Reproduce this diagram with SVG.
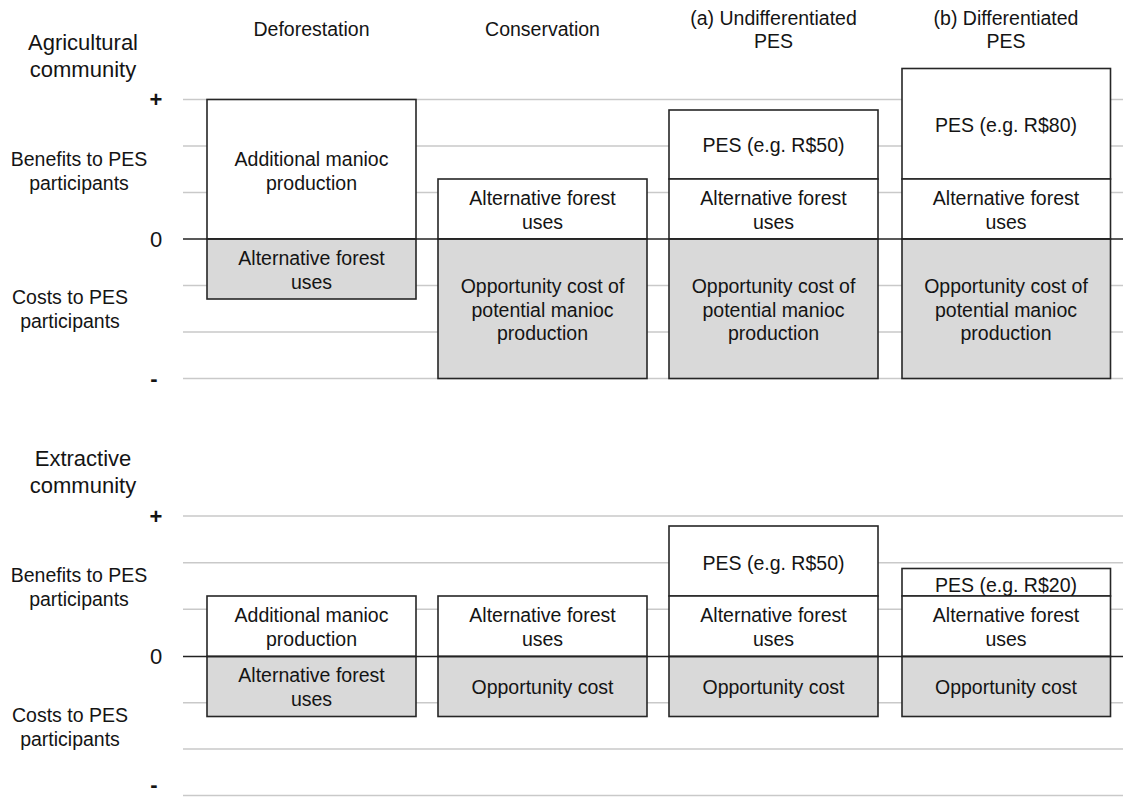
<svg xmlns="http://www.w3.org/2000/svg" width="1123" height="797" viewBox="0 0 1123 797">
<style>
text{font-family:"Liberation Sans",Arial,sans-serif;fill:#141414;text-anchor:middle}
.lbl{font-size:19.5px}
.big{font-size:22px}
.axis{font-size:22px}
.grid{stroke:#c9c9c9;stroke-width:1.6}
.zero{stroke:#222;stroke-width:1.6}
.w{fill:#fff;stroke:#262626;stroke-width:1.6}
.g{fill:#d9d9d9;stroke:#262626;stroke-width:1.6}
</style>
<rect width="1123" height="797" fill="#fff"/>
<g id="grid">
<line class="grid" x1="183" y1="99.5" x2="1123" y2="99.5"/>
<line class="grid" x1="183" y1="146" x2="1123" y2="146"/>
<line class="grid" x1="183" y1="192.5" x2="1123" y2="192.5"/>
<line class="grid" x1="183" y1="285.5" x2="1123" y2="285.5"/>
<line class="grid" x1="183" y1="332" x2="1123" y2="332"/>
<line class="grid" x1="183" y1="378.5" x2="1123" y2="378.5"/>
<line class="grid" x1="183" y1="516" x2="1123" y2="516"/>
<line class="grid" x1="183" y1="562.7" x2="1123" y2="562.7"/>
<line class="grid" x1="183" y1="609.3" x2="1123" y2="609.3"/>
<line class="grid" x1="183" y1="702.7" x2="1123" y2="702.7"/>
<line class="grid" x1="183" y1="749" x2="1123" y2="749"/>
<line class="grid" x1="183" y1="795.5" x2="1123" y2="795.5"/>
</g>
<g id="connectors"></g>
<g id="axis-labels">
<text class="big" x="83" y="50">Agricultural</text>
<text class="big" x="83" y="77">community</text>
<text class="big" x="83" y="466">Extractive</text>
<text class="big" x="83" y="493">community</text>
<text class="lbl" x="79" y="166">Benefits to PES</text>
<text class="lbl" x="79" y="189.5">participants</text>
<text class="lbl" x="70" y="304">Costs to PES</text>
<text class="lbl" x="70" y="327.5">participants</text>
<text class="lbl" x="79" y="582">Benefits to PES</text>
<text class="lbl" x="79" y="605.5">participants</text>
<text class="lbl" x="70" y="722">Costs to PES</text>
<text class="lbl" x="70" y="745.5">participants</text>
<text class="axis" x="156" y="107" font-weight="bold">+</text>
<text class="axis" x="156" y="247">0</text>
<text class="axis" x="154" y="386" font-weight="bold">-</text>
<text class="axis" x="156" y="524" font-weight="bold">+</text>
<text class="axis" x="156" y="664">0</text>
<text class="axis" x="154" y="792" font-weight="bold">-</text>
</g>
<g id="headers">
<text class="lbl" x="311.5" y="36">Deforestation</text>
<text class="lbl" x="542.5" y="36">Conservation</text>
<text class="lbl" x="773.5" y="25">(a) Undifferentiated</text>
<text class="lbl" x="773.5" y="48">PES</text>
<text class="lbl" x="1006" y="25">(b) Differentiated</text>
<text class="lbl" x="1006" y="48">PES</text>
</g>
<g id="agri-deforestation">
<rect class="w" x="207" y="99.5" width="209" height="139.5"/>
<rect class="g" x="207" y="239" width="209" height="60"/>
<text class="lbl" x="311.5" y="166">Additional manioc</text>
<text class="lbl" x="311.5" y="189.5">production</text>
<text class="lbl" x="311.5" y="265">Alternative forest</text>
<text class="lbl" x="311.5" y="288.5">uses</text>
</g>
<g id="agri-conservation">
<rect class="w" x="438" y="179" width="209" height="60"/>
<rect class="g" x="438" y="239" width="209" height="139.5"/>
<text class="lbl" x="542.5" y="205">Alternative forest</text>
<text class="lbl" x="542.5" y="228.5">uses</text>
<text class="lbl" x="542.5" y="293">Opportunity cost of</text>
<text class="lbl" x="542.5" y="316.5">potential manioc</text>
<text class="lbl" x="542.5" y="340">production</text>
</g>
<g id="agri-undifferentiated">
<rect class="w" x="669" y="110" width="209" height="69"/>
<rect class="w" x="669" y="179" width="209" height="60"/>
<rect class="g" x="669" y="239" width="209" height="139.5"/>
<text class="lbl" x="773.5" y="152">PES (e.g. R$50)</text>
<text class="lbl" x="773.5" y="205">Alternative forest</text>
<text class="lbl" x="773.5" y="228.5">uses</text>
<text class="lbl" x="773.5" y="293">Opportunity cost of</text>
<text class="lbl" x="773.5" y="316.5">potential manioc</text>
<text class="lbl" x="773.5" y="340">production</text>
</g>
<g id="agri-differentiated">
<rect class="w" x="902" y="68.5" width="208.5" height="110.5"/>
<rect class="w" x="902" y="179" width="208.5" height="60"/>
<rect class="g" x="902" y="239" width="208.5" height="139.5"/>
<text class="lbl" x="1006" y="132">PES (e.g. R$80)</text>
<text class="lbl" x="1006" y="205">Alternative forest</text>
<text class="lbl" x="1006" y="228.5">uses</text>
<text class="lbl" x="1006" y="293">Opportunity cost of</text>
<text class="lbl" x="1006" y="316.5">potential manioc</text>
<text class="lbl" x="1006" y="340">production</text>
</g>
<g id="extr-deforestation">
<rect class="w" x="207" y="596" width="209" height="60.5"/>
<rect class="g" x="207" y="656.5" width="209" height="60"/>
<text class="lbl" x="311.5" y="622">Additional manioc</text>
<text class="lbl" x="311.5" y="645.5">production</text>
<text class="lbl" x="311.5" y="682">Alternative forest</text>
<text class="lbl" x="311.5" y="705.5">uses</text>
</g>
<g id="extr-conservation">
<rect class="w" x="438" y="596" width="209" height="60.5"/>
<rect class="g" x="438" y="656.5" width="209" height="60"/>
<text class="lbl" x="542.5" y="622">Alternative forest</text>
<text class="lbl" x="542.5" y="645.5">uses</text>
<text class="lbl" x="542.5" y="693.5">Opportunity cost</text>
</g>
<g id="extr-undifferentiated">
<rect class="w" x="669" y="526" width="209" height="70"/>
<rect class="w" x="669" y="596" width="209" height="60.5"/>
<rect class="g" x="669" y="656.5" width="209" height="60"/>
<text class="lbl" x="773.5" y="569.5">PES (e.g. R$50)</text>
<text class="lbl" x="773.5" y="622">Alternative forest</text>
<text class="lbl" x="773.5" y="645.5">uses</text>
<text class="lbl" x="773.5" y="693.5">Opportunity cost</text>
</g>
<g id="extr-differentiated">
<rect class="w" x="902" y="568.5" width="208.5" height="27.5"/>
<rect class="w" x="902" y="596" width="208.5" height="60.5"/>
<rect class="g" x="902" y="656.5" width="208.5" height="60"/>
<text class="lbl" x="1006" y="591.5">PES (e.g. R$20)</text>
<text class="lbl" x="1006" y="622">Alternative forest</text>
<text class="lbl" x="1006" y="645.5">uses</text>
<text class="lbl" x="1006" y="693.5">Opportunity cost</text>
</g>
<g id="zero-lines">
<line class="zero" x1="183" y1="239" x2="1123" y2="239"/>
<line class="zero" x1="183" y1="656.5" x2="1123" y2="656.5"/>
</g>
</svg>
